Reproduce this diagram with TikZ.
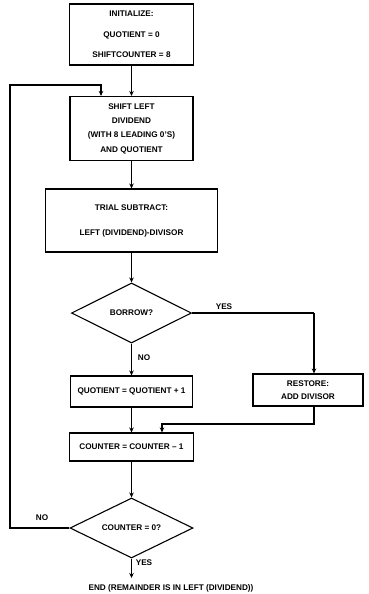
\documentclass[tikz,border=0pt]{standalone}
\usepackage{fontspec}
\setmainfont{Liberation Sans}
\usetikzlibrary{shapes.geometric,arrows.meta}
\begin{document}
\begin{tikzpicture}[x=1pt,y=-1pt,
  every node/.style={font=\fontsize{8.2}{9}\selectfont\bfseries},
  box/.style={draw,line width=1.1pt,rectangle,inner sep=0pt,align=center},
  dec/.style={draw,line width=1.1pt,diamond,inner sep=0pt,aspect=2},
  conn/.style={line width=1.1pt},
  arr/.style={line width=1.1pt,-{Stealth[length=5pt,width=4.5pt]}},
  lbl/.style={inner sep=1pt}]
\useasboundingbox (0,0) rectangle (369,594);
\node[box,minimum width=124pt,minimum height=61pt,font=\fontsize{8.2}{20.5}\selectfont\bfseries] (init) at (131.5,34.5)
  {INITIALIZE:\\ QUOTIENT = 0\\ SHIFTCOUNTER = 8};
\node[box,minimum width=123pt,minimum height=64pt,font=\fontsize{8.2}{14.3}\selectfont\bfseries] (shift) at (131.5,128.5)
  {SHIFT LEFT\\ DIVIDEND\\ (WITH 8 LEADING 0'S)\\ AND QUOTIENT};
\node[box,minimum width=172pt,minimum height=63pt,font=\fontsize{8.2}{25}\selectfont\bfseries] (trial) at (131.5,220.5)
  {TRIAL SUBTRACT:\\ LEFT (DIVIDEND)-DIVISOR};
\node[dec,minimum width=120pt,minimum height=60pt] (borrow) at (131.5,313) {BORROW?};
\node[box,minimum width=122pt,minimum height=31pt] (quot) at (131.5,391.5) {QUOTIENT = QUOTIENT + 1};
\node[box,minimum width=110pt,minimum height=32pt,font=\fontsize{8.2}{13.5}\selectfont\bfseries] (restore) at (308,390)
  {RESTORE:\\ ADD DIVISOR};
\node[box,minimum width=124pt,minimum height=28pt] (counter) at (131.5,447) {COUNTER = COUNTER -- 1};
\node[dec,minimum width=123pt,minimum height=60pt] (cz) at (131.5,528) {COUNTER = 0?};
\node (end) at (171,588) {END (REMAINDER IS IN LEFT (DIVIDEND))};
\coordinate (endtip) at (131.5,578);
\coordinate (l1) at (10,528);
\coordinate (l2) at (10,85);
\coordinate (l3) at (101,85);
\coordinate (r1) at (314,313);
\coordinate (r2) at (314,424);
\coordinate (r3) at (162,424);
\draw[arr] (init.south) -- (shift.north);
\draw[arr] (cz.west) -- (l1) -- (l2) -- (l3) -- (l3 |- shift.north);
\draw[arr] (shift.south) -- (trial.north);
\draw[arr] (trial.south) -- (borrow.north);
\draw[conn] (borrow.east) -- (r1);
\draw[arr] (r1) -- (restore.north -| r1);
\draw[arr] (borrow.south) -- (quot.north);
\draw[arr] (quot.south) -- (counter.north);
\draw[arr] (restore.south -| r2) -- (r2) -- (r3) -- (r3 |- counter.north);
\draw[arr] (counter.south) -- (cz.north);
\draw[arr] (cz.south) -- (endtip);
\node[lbl] (yes1) at (224,307) {YES};
\node[lbl] (no1) at (144,358) {NO};
\node[lbl] (no2) at (42,518) {NO};
\node[lbl] (yes2) at (144,563) {YES};
\end{tikzpicture}
\end{document}
